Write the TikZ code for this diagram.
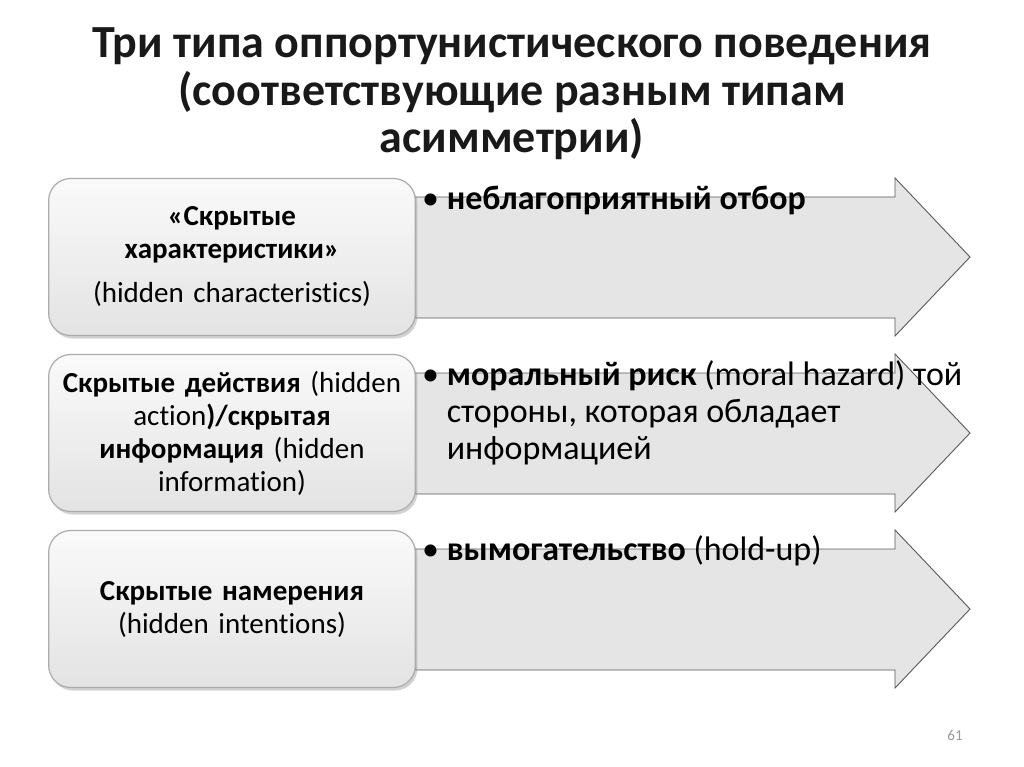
\documentclass[tikz,border=0pt]{standalone}
\usepackage{fontspec}
\setmainfont{Carlito}[Ligatures=NoCommon]
\usetikzlibrary{shadows}

\tikzset{
  hidbox/.style={draw=gray!65, line width=1.2pt, rounded corners=22pt,
    top color=gray!4, bottom color=gray!22,
    drop shadow={shadow xshift=2pt, shadow yshift=-3pt, opacity=0.35},
    minimum width=365pt, minimum height=157pt, text width=360pt,
    align=center, font=\fontsize{29}{33}\selectfont},
  arrbody/.style={draw=black!65, line width=0.9pt, fill=gray!20},
  arrtext/.style={anchor=north west, inner sep=0pt, align=left,
    font=\fontsize{34}{37}\selectfont},
}

\begin{document}
\begin{tikzpicture}[x=1pt, y=-1pt]
  \useasboundingbox[fill=white] (0,0) rectangle (1024,767);

  % title
  \node(title)[align=center, text=black!90,
    font=\bfseries\fontsize{46}{47.5}\selectfont] at (512,94)
    {Три типа оппортунистического поведения\\
     (соответствующие разным типам\\ асимметрии)};

  % big arrows behind the boxes
  \foreach \yc/\nm in {257/a1, 433/a2, 609/a3} {
    \draw[arrbody] (415,\yc-60) coordinate(\nm-nw) -- (895,\yc-60)
      -- (895,\yc-79) -- (970,\yc) coordinate(\nm-tip) -- (895,\yc+79)
      -- (895,\yc+61) -- (415,\yc+61) -- cycle;
  }

  \node(t1)[arrtext] at (422,186)
    {\textbullet\ \textbf{неблагоприятный отбор}};
  \node(t2)[arrtext] at (422,360)
    {\textbullet\ \textbf{моральный риск} (moral hazard) той\\
     \hphantom{\textbullet\ }стороны, которая обладает\\
     \hphantom{\textbullet\ }информацией};
  \node(t3)[arrtext] at (422,535)
    {\textbullet\ \textbf{вымогательство} (hold-up)};

  % left boxes
  \node(b1)[hidbox] at (232,257)
    {\textbf{«Скрытые}\\ \textbf{характеристики»}\\[11pt] (hidden characteristics)};
  \node(b2)[hidbox] at (232,433)
    {\textbf{Скрытые действия} (hidden\\ action\textbf{)/скрытая}\\
     \textbf{информация} (hidden\\ information)};
  \node(b3)[hidbox] at (232,609)
    {\textbf{Скрытые намерения}\\ (hidden intentions)};

  \node(pg)[text=gray!80, font=\fontsize{15}{18}\selectfont] at (955,735) {61};
\end{tikzpicture}
\end{document}
